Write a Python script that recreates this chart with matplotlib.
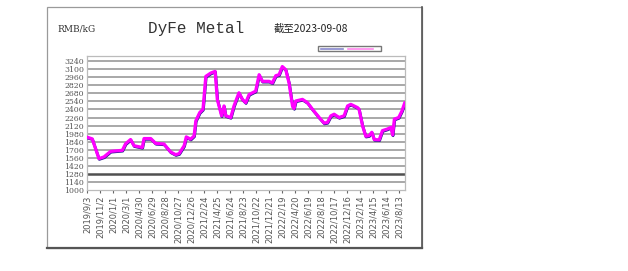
import matplotlib
matplotlib.use("Agg")
import matplotlib.pyplot as plt
import matplotlib.dates as mdates
import matplotlib.transforms as mtrans
from matplotlib.patches import Rectangle
from matplotlib.lines import Line2D
import pandas as pd

dates = ["2019-09-03", "2019-09-27", "2019-10-28", "2019-11-20", "2019-12-21",
         "2020-02-13", "2020-02-28", "2020-03-22", "2020-04-07", "2020-05-15",
         "2020-05-23", "2020-06-23", "2020-07-16", "2020-08-23", "2020-09-23",
         "2020-10-16", "2020-11-01", "2020-11-24", "2020-12-04", "2020-12-24",
         "2021-01-09", "2021-01-17", "2021-02-04", "2021-02-19", "2021-03-04",
         "2021-03-27", "2021-04-16", "2021-04-26", "2021-05-16", "2021-05-27",
         "2021-06-04", "2021-06-27", "2021-07-12", "2021-08-04", "2021-08-20",
         "2021-09-04", "2021-09-20", "2021-10-20", "2021-11-05", "2021-11-20",
         "2021-12-21", "2022-01-05", "2022-01-21", "2022-02-05", "2022-02-20",
         "2022-03-08", "2022-03-23", "2022-04-08", "2022-04-15", "2022-04-23",
         "2022-05-24", "2022-06-16", "2022-07-09", "2022-08-09", "2022-09-01",
         "2022-09-16", "2022-10-02", "2022-10-17", "2022-11-09", "2022-12-02",
         "2022-12-18", "2023-01-02", "2023-02-02", "2023-02-09", "2023-02-25",
         "2023-03-12", "2023-03-27", "2023-04-09", "2023-04-20", "2023-05-13",
         "2023-05-28", "2023-06-20", "2023-07-06", "2023-07-14", "2023-07-22",
         "2023-08-11", "2023-08-26", "2023-09-08"]
prices = [1919, 1890, 1546, 1575, 1672, 1690, 1804, 1878, 1770, 1740,
          1895, 1895, 1810, 1800, 1661, 1615, 1632, 1770, 1924, 1884,
          1941, 2204, 2347, 2404, 2976, 3034, 3063, 2576, 2290, 2462,
          2290, 2261, 2462, 2691, 2576, 2519, 2662, 2719, 3005, 2890,
          2890, 2862, 2988, 3005, 3147, 3090, 2862, 2462, 2417, 2548,
          2576, 2519, 2404, 2261, 2164, 2175, 2290, 2318, 2261, 2290,
          2462, 2490, 2433, 2404, 2118, 1935, 1945, 2004, 1878, 1872,
          2033, 2061, 2090, 1958, 2233, 2261, 2376, 2519]

tick_dates = ["2019-09-03", "2019-11-02", "2020-01-01", "2020-03-01", "2020-04-30",
              "2020-06-29", "2020-08-28", "2020-10-27", "2020-12-26", "2021-02-24",
              "2021-04-25", "2021-06-24", "2021-08-23", "2021-10-22", "2021-12-21",
              "2022-02-19", "2022-04-20", "2022-06-19", "2022-08-18", "2022-10-17",
              "2022-12-16", "2023-02-14", "2023-04-15", "2023-06-14", "2023-08-13"]
y_ticks = [1000, 1140, 1280, 1420, 1560, 1700, 1840, 1980, 2120, 2260,
           2400, 2540, 2680, 2820, 2960, 3100, 3240]

title = "DyFe Metal"
unit = "RMB/kG"
asof = "截至2023-09-08"

x = pd.to_datetime(dates)
tx = pd.to_datetime(tick_dates)
tick_labels = [f"{d.year}/{d.month}/{d.day}" for d in tx]

W, H = 628, 271
fig = plt.figure(figsize=(W / 100, H / 100), dpi=100)
fig.patch.set_facecolor("white")

# outer frame
fig.patches.append(Rectangle((47 / W, 1 - 248 / H), (422 - 47) / W, (248 - 7) / H,
                             transform=fig.transFigure, fill=False,
                             edgecolor="#9a9a9a", linewidth=0.9))
fig.add_artist(Line2D([47 / W, 422 / W], [1 - 248 / H, 1 - 248 / H],
                      transform=fig.transFigure, color="#555555", linewidth=1.6))
fig.add_artist(Line2D([422 / W, 422 / W], [1 - 248 / H, 1 - 7 / H],
                      transform=fig.transFigure, color="#555555", linewidth=1.2))

ax = fig.add_axes([87 / W, 1 - 190 / H, (405 - 87) / W, (190 - 56) / H])
ax.set_facecolor("white")

xmin = pd.Timestamp("2019-09-03")
xmax = pd.Timestamp("2023-09-09")
ax.set_xlim(xmin, xmax)
ax.set_ylim(1000, 3330)

for v in y_ticks[1:]:
    if v == 1280:
        ax.axhline(v, color="#505050", linewidth=1.8, zorder=1)
    else:
        ax.axhline(v, color="#9a9a9a", linewidth=1.2, zorder=1)

off = mtrans.offset_copy(ax.transData, fig=fig, x=0.4, y=-0.8, units="dots")
ax.plot(x, prices, color="#1a1a8c", linewidth=2.0, transform=off, zorder=3,
        solid_joinstyle="round")
ax.plot(x, prices, color="#ff00ff", linewidth=2.3, zorder=4,
        solid_joinstyle="round", solid_capstyle="round")

ax.set_xticks(tx)
ax.set_xticklabels(tick_labels, rotation=90, fontsize=6.0, color="#555555",
                   family="DejaVu Sans")
ax.set_yticks(y_ticks)
ax.set_yticklabels([str(v) for v in y_ticks], fontsize=5.6, color="#555555",
                   family="DejaVu Serif")
ax.tick_params(axis="x", direction="out", length=2, width=0.8, color="#666666", pad=2)
ax.tick_params(axis="y", length=0, pad=2)
for s in ax.spines.values():
    s.set_color("#bbbbbb")
    s.set_linewidth(0.9)

# texts
fig.text(57 / W, 1 - 29 / H, unit, fontsize=6.5, family="DejaVu Serif",
         color="#333333", va="center", ha="left")
fig.text(148 / W, 1 - 29 / H, title, fontsize=11.5, family="Liberation Mono",
         color="#333333", va="center", ha="left")
fig.text(274 / W, 1 - 29 / H, asof, fontsize=7.5,
         family=["Noto Sans CJK SC", "DejaVu Sans"], color="#222222",
         va="center", ha="left")

# small legend box
fig.patches.append(Rectangle((318 / W, 1 - 51 / H), 63 / W, 5 / H,
                             transform=fig.transFigure, fill=False,
                             edgecolor="#777777", linewidth=1.0))
fig.add_artist(Line2D([321 / W, 343 / W], [1 - 48.5 / H] * 2,
                      transform=fig.transFigure, color="#8888cc", linewidth=1.2))
fig.add_artist(Line2D([348 / W, 373 / W], [1 - 48.5 / H] * 2,
                      transform=fig.transFigure, color="#ff88ee", linewidth=1.2))

fig.savefig("out.png", dpi=100)
